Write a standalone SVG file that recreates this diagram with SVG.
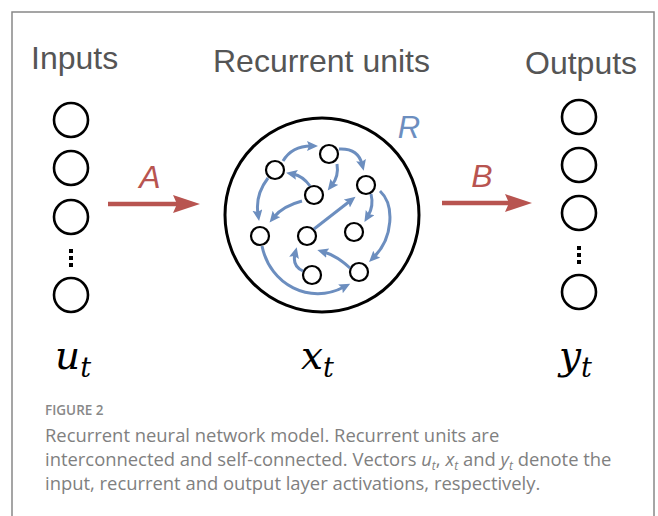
<svg xmlns="http://www.w3.org/2000/svg" width="658" height="516" viewBox="0 0 658 516">
<style>
.hdr{font-family:"Liberation Sans",Arial,sans-serif;font-size:32px;fill:#555}
.unit{fill:#fff;stroke:#000;stroke-width:2.6}
.small{fill:#fff;stroke:#000;stroke-width:2.2}
.blue{fill:none;stroke:#6c8ebf;stroke-width:3;marker-end:url(#bh)}
.red{fill:none;stroke:#b85450;stroke-width:4.5;marker-end:url(#rh)}
.lbl{font-family:"Liberation Sans",Arial,sans-serif;font-style:italic;font-size:32px;text-anchor:middle}
.math{font-family:"DejaVu Serif","Liberation Serif",serif;font-style:italic;fill:#000}
.cap{font-family:"Open Sans",Lato,sans-serif;font-size:18.4px;fill:#808080}
.dot{fill:#000}
</style>
<defs>
<marker id="bh" markerUnits="userSpaceOnUse" markerWidth="12" markerHeight="12" viewBox="0 0 12 12" refX="4" refY="5" orient="auto">
<path d="M0,0 L11,5 L0,10 L2,5 z" fill="#6c8ebf"/>
</marker>
<marker id="rh" markerUnits="userSpaceOnUse" markerWidth="30" markerHeight="20" viewBox="0 0 30 20" refX="6" refY="9" orient="auto">
<path d="M0,0 L27,9 L0,18 L4,9 z" fill="#b85450"/>
</marker>
</defs>
<rect x="12" y="12" width="642" height="520" fill="#fff" stroke="#888" stroke-width="1.5"/>

<g id="headers">
<text class="hdr" x="31" y="69">Inputs</text>
<text class="hdr" x="213" y="72">Recurrent units</text>
<text class="hdr" x="525" y="74">Outputs</text>
</g>

<g id="inputs">
<circle class="unit" cx="71" cy="120" r="17"/>
<circle class="unit" cx="71" cy="168" r="17"/>
<circle class="unit" cx="71" cy="217" r="17"/>
<rect class="dot" x="69" y="249" width="4" height="4"/>
<rect class="dot" x="69" y="256" width="4" height="4"/>
<rect class="dot" x="69" y="263" width="4" height="4"/>
<circle class="unit" cx="71" cy="295" r="17"/>
</g>

<g id="outputs">
<circle class="unit" cx="579" cy="117" r="17"/>
<circle class="unit" cx="579" cy="165" r="17"/>
<circle class="unit" cx="579" cy="213" r="17"/>
<rect class="dot" x="577" y="246" width="4" height="4"/>
<rect class="dot" x="577" y="253" width="4" height="4"/>
<rect class="dot" x="577" y="260" width="4" height="4"/>
<circle class="unit" cx="579" cy="292" r="17"/>
</g>

<g id="reservoir">
<circle cx="322" cy="215" r="97" fill="#fff" stroke="#000" stroke-width="3"/>
<text class="lbl" x="409" y="138" style="font-size:31px;fill:#6c8ebf">R</text>
<circle class="small" cx="275" cy="170" r="9"/>
<circle class="small" cx="329" cy="154" r="9"/>
<circle class="small" cx="314" cy="195" r="9"/>
<circle class="small" cx="366" cy="185" r="9"/>
<circle class="small" cx="260" cy="236" r="9"/>
<circle class="small" cx="307" cy="236" r="9"/>
<circle class="small" cx="354" cy="232" r="9"/>
<circle class="small" cx="312" cy="275" r="9"/>
<circle class="small" cx="359" cy="272" r="9"/>
</g>

<g id="connectors">
<path class="red" d="M108,204 L179,204"/>
<path class="red" d="M442,203 L511,203"/>
<path class="blue" d="M283,161 Q292,146 311,146"/>
<path class="blue" d="M339,149 Q358,148 362,164"/>
<path class="blue" d="M337,164 Q339,176 332,185"/>
<path class="blue" d="M310,186 Q303,176 293,174"/>
<path class="blue" d="M268,178 Q255,195 258,214"/>
<path class="blue" d="M302,201 Q283,206 274,217"/>
<path class="blue" d="M314,229 L350,201"/>
<path class="blue" d="M371,194 Q374,206 368,216"/>
<path class="blue" d="M380,191 C395,205 393,238 374,257"/>
<path class="blue" d="M350,268 Q337,256 324,252"/>
<path class="blue" d="M303,271 Q292,266 295,254"/>
<path class="blue" d="M262,246 C270,285 310,305 344,287"/>
</g>

<g id="labels">
<text class="lbl" x="150" y="188" style="fill:#b85450">A</text>
<text class="lbl" x="482" y="187" style="fill:#b85450">B</text>
<text class="math" x="55" y="369" font-size="39">u<tspan font-size="27" dy="8">t</tspan></text>
<text class="math" x="301" y="369" font-size="39">x<tspan font-size="27" dy="8">t</tspan></text>
<text class="math" x="559" y="369" font-size="39">y<tspan font-size="27" dy="8">t</tspan></text>
</g>

<g id="caption">
<text x="45" y="415" style="font-family:'Open Sans',Lato,sans-serif;font-size:13.5px;font-weight:600;fill:#888">FIGURE 2</text>
<text class="cap" x="45" y="442">Recurrent neural network model. Recurrent units are</text>
<text class="cap" x="45" y="466">interconnected and self-connected. Vectors <tspan font-style="italic">u</tspan><tspan font-style="italic" font-size="12" baseline-shift="-4">t</tspan>, <tspan font-style="italic">x</tspan><tspan font-style="italic" font-size="12" baseline-shift="-4">t</tspan> and <tspan font-style="italic">y</tspan><tspan font-style="italic" font-size="12" baseline-shift="-4">t</tspan> denote the</text>
<text class="cap" x="45" y="490">input, recurrent and output layer activations, respectively.</text>
</g>
</svg>
